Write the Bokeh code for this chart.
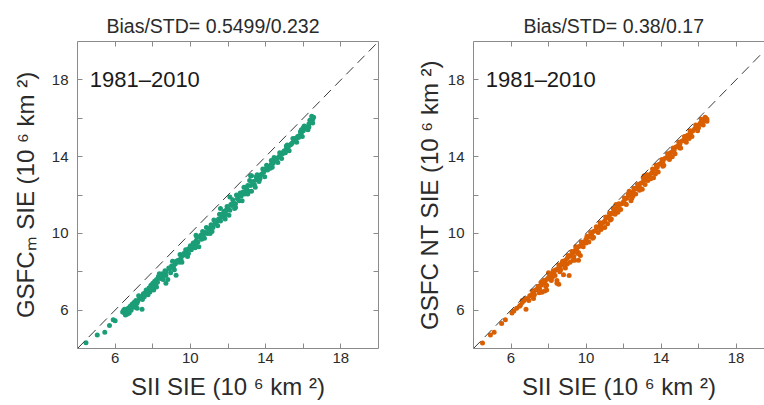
from bokeh.plotting import figure
from bokeh.layouts import row
from bokeh.models import Range1d, LinearAxis, FixedTicker, Slope, Label
from bokeh.embed import file_html
from bokeh.resources import INLINE

FONT = "Liberation Sans"

# ---------------- data ----------------
period = "1981–2010"
tick_values = [6, 8, 10, 12, 14, 16, 18]
tick_text = ["6", "", "10", "", "14", "", "18"]

left_title = "Bias/STD= 0.5499/0.232"
right_title = "Bias/STD= 0.38/0.17"
x_label = "SII SIE (10 ⁶ km ²)"
left_ylabel = "GSFCₘ SIE (10 ⁶ km ²)"
right_ylabel = "GSFC NT SIE (10 ⁶ km ²)"

sii_left = [4.45, 5.05, 5.45, 5.7, 5.9, 6.0,
            6.4, 6.45, 6.5, 6.55, 6.6, 6.7, 6.75, 6.8, 6.9, 7.0, 7.0, 7.05, 7.17, 7.1,
            7.2, 7.3, 7.43, 7.35, 7.5, 7.6, 7.7, 7.75, 7.8, 7.9, 7.95, 8.0, 8.05, 8.1,
            8.15, 8.2, 8.3, 8.4, 8.5, 8.6, 8.7, 8.7, 8.8, 8.9, 9.0, 9.1, 9.2, 9.24,
            9.35, 9.4, 9.5, 9.6, 9.7, 9.8, 9.9, 10.0, 10.05, 10.1, 10.2, 10.3, 10.4,
            10.5, 10.6, 10.7, 10.8, 10.9, 11.0, 11.1, 11.2, 11.3, 11.4, 11.5, 11.6,
            11.7, 11.8, 11.9, 12.0, 12.1, 12.2, 12.3, 12.4, 12.5, 12.6, 12.7, 12.8,
            12.9, 13.0, 13.1, 13.2, 13.3, 13.4, 13.5, 13.6, 13.7, 13.8, 13.9, 14.0,
            14.1, 14.2, 14.3, 14.4, 14.5, 14.6, 14.7, 14.8, 14.9, 15.0, 15.1, 15.2,
            15.3, 15.4, 15.5, 15.6, 15.7, 15.8, 15.9, 16.0, 16.1, 16.2, 16.3, 16.4,
            16.5, 16.55,
            6.6, 7.0, 7.45, 8.0, 8.45, 8.85, 9.25, 9.65, 10.15, 10.55, 10.95, 11.35,
            11.75, 12.15, 12.55, 12.95, 13.35, 13.75, 14.15, 14.55, 14.95, 15.35,
            15.75, 16.15, 16.45, 11.05, 11.8, 12.4, 13.05, 13.25, 14.25, 15.05, 15.55,
            16.0, 12.1, 13.2, 11.6, 10.3, 9.9, 8.2,
            6.5, 6.65, 6.85, 7.15, 7.25, 7.55, 7.65, 7.85, 8.25, 8.35, 8.55, 8.65,
            8.95, 9.05, 9.15, 9.45, 9.55, 9.75, 9.85, 10.25, 10.35, 10.45, 10.65,
            10.75, 10.85, 11.15, 11.25, 11.45, 11.55, 11.65, 11.85, 11.95, 12.05,
            12.25, 12.35, 12.45, 12.65, 12.75, 12.85, 13.05, 13.15, 13.25, 13.45,
            13.55, 13.65, 13.85, 13.95, 14.05, 14.35, 14.45, 14.65, 14.75, 14.85,
            15.15, 15.25, 15.45, 15.65, 15.85, 15.95, 16.05, 16.25, 16.35, 16.5,
            16.45, 16.3, 15.9, 15.1, 14.3, 13.5, 12.7, 11.9, 11.1, 10.3, 9.5, 8.7,
            7.9, 7.1, 6.55]
gsfcm = [4.3, 4.7, 4.85, 5.2, 5.5, 5.45,
         5.9, 6.0, 5.85, 5.95, 6.05, 6.1, 5.85, 6.2, 6.3, 6.15, 6.4, 6.2, 6.1, 6.5,
         6.45, 6.6, 6.05, 6.7, 6.85, 6.9, 7.0, 6.8, 7.15, 7.3, 7.2, 7.4, 7.05, 7.5,
         7.35, 7.6, 7.75, 7.65, 7.9, 7.8, 8.0, 7.4, 7.6, 8.15, 8.3, 8.25, 8.4, 7.82,
         8.6, 8.5, 8.7, 8.85, 8.9, 9.0, 9.2, 9.35, 9.15, 9.3, 9.5, 9.6, 9.55,
         9.8, 9.7, 9.95, 10.05, 10.0, 10.2, 10.35, 10.3, 10.5, 10.6, 10.75, 10.65,
         10.9, 11.15, 11.0, 11.3, 11.2, 11.45, 11.6, 11.55, 11.8, 11.7, 11.95, 12.15,
         12.05, 12.3, 12.2, 12.5, 12.65, 12.55, 12.8, 12.9, 12.85, 13.1, 13.2, 13.35,
         13.3, 13.5, 13.6, 13.65, 13.8, 13.9, 14.0, 14.1, 14.15, 14.3, 14.4, 14.5,
         14.6, 14.7, 14.8, 14.9, 15.05, 15.1, 15.25, 15.35, 15.5, 15.55, 15.7, 15.8,
         15.95, 16.05,
         5.9, 6.3, 6.55, 7.2, 7.85, 8.2, 8.55, 8.95, 9.5, 9.9, 10.25, 10.65,
         11.05, 11.5, 11.9, 12.2, 12.7, 13.05, 13.45, 13.85, 14.25, 14.65,
         15.0, 15.45, 15.85, 10.0, 10.85, 11.35, 12.5, 12.2, 13.4, 14.2, 14.95,
         15.5, 11.9, 13.0, 11.3, 9.9, 8.95, 7.2,
         6.05, 5.8, 6.0, 6.35, 6.75, 6.7, 7.05, 6.95, 7.45, 7.9, 7.6, 8.05,
         7.95, 8.55, 8.1, 8.9, 8.5, 9.15, 8.8, 9.25, 9.8, 9.3, 10.1,
         9.75, 10.3, 10.1, 10.7, 10.4, 11.0, 10.85, 10.75, 11.4, 10.95,
         11.75, 11.3, 12.0, 12.1, 11.7, 12.4, 12.05, 12.75, 13.0, 12.4,
         13.05, 12.7, 13.35, 12.95, 13.55, 13.45, 13.95, 13.7, 14.2, 13.9,
         14.6, 14.3, 14.95, 14.75, 15.3, 15.05, 15.6, 15.4, 15.9, 15.75,
         16.1, 15.55, 15.4, 14.55, 13.8, 12.95, 12.0, 11.2, 10.45, 9.45, 8.6, 7.8,
         7.1, 6.3, 5.75]

sii_right = [4.48, 4.9, 5.1, 5.5, 5.7, 6.05, 6.15, 6.3, 6.5, 6.6, 6.7, 6.8,
             6.9, 7.0, 7.1, 7.2, 7.3, 7.4, 7.5, 7.6, 7.7, 7.8, 7.9, 8.0, 8.1, 8.2,
             8.3, 8.4, 8.5, 8.6, 8.7, 8.8, 8.9, 9.0, 9.1, 9.2, 9.3, 9.4, 9.5, 9.6,
             9.7, 9.8, 9.9, 10.0, 10.1, 10.2, 10.3, 10.4, 10.5, 10.6, 10.7, 10.8,
             10.9, 11.0, 11.1, 11.2, 11.3, 11.4, 11.5, 11.6, 11.7, 11.8, 11.9, 12.0,
             12.1, 12.2, 12.3, 12.4, 12.5, 12.6, 12.7, 12.8, 12.9, 13.0, 13.1, 13.2,
             13.3, 13.4, 13.5, 13.6, 13.7, 13.8, 13.9, 14.0, 14.1, 14.2, 14.3, 14.4,
             14.5, 14.6, 14.7, 14.8, 14.9, 15.0, 15.1, 15.2, 15.3, 15.4, 15.5, 15.6,
             15.7, 15.8, 15.9, 16.0, 16.1, 16.2, 16.3, 16.4, 16.45,
             7.2, 7.5, 7.9, 8.2, 8.6, 9.0, 9.3, 9.6, 10.0, 10.4, 10.8, 11.3, 11.7,
             12.1, 12.5, 12.9, 13.3, 13.7, 14.1, 14.6, 15.0, 15.5, 16.0, 11.6, 12.3,
             13.1, 7.6, 8.0, 6.6, 9.6, 7.9, 9.4, 12.4, 13.0, 13.6, 11.0, 9.7,
             7.65, 7.8, 8.45, 8.55, 8.8, 9.1, 8.9, 8.45,
             6.45, 6.75, 6.95, 7.15, 7.25, 7.45, 7.55, 7.75, 7.85, 8.05, 8.15, 8.25,
             8.35, 8.55, 8.65, 8.75, 8.85, 9.05, 9.15, 9.25, 9.35, 9.45, 9.55, 9.75,
             9.85, 10.05, 10.15, 10.25, 10.35, 10.55, 10.65, 10.75, 10.85, 11.05,
             11.15, 11.25, 11.35, 11.45, 11.55, 11.75, 11.85, 12.05, 12.15, 12.25,
             12.45, 12.55, 12.65, 12.75, 12.85, 13.05, 13.15, 13.25, 13.45, 13.55,
             13.75, 13.85, 14.05, 14.15, 14.35, 14.45, 14.65, 14.75, 14.95, 15.05,
             15.25, 15.35, 15.55, 15.65, 15.85, 15.95, 16.15, 16.25, 16.35, 16.45,
             16.4]
gsfcnt = [4.29, 4.7, 4.85, 5.3, 5.5, 5.85, 5.95, 6.1, 6.25, 6.4, 6.5, 6.05,
          6.6, 6.75, 6.8, 6.9, 7.05, 7.1, 7.2, 7.3, 7.4, 7.45, 7.6, 7.7, 7.8, 7.9,
          8.0, 8.1, 8.15, 8.3, 8.4, 8.45, 8.6, 8.7, 8.8, 8.85, 9.0, 9.1, 9.2, 9.3,
          9.35, 9.5, 9.55, 9.7, 9.8, 9.85, 10.0, 10.1, 10.15, 10.3, 10.35, 10.5,
          10.55, 10.65, 10.8, 10.85, 11.0, 11.05, 11.15, 11.3, 11.35, 11.5, 11.55,
          11.65, 11.8, 11.85, 12.0, 12.05, 12.15, 12.3, 12.35, 12.45, 12.6, 12.65,
          12.8, 12.85, 13.0, 13.05, 13.15, 13.3, 13.35, 13.45, 13.6, 13.65, 13.75,
          13.9, 13.95, 14.05, 14.2, 14.25, 14.35, 14.5, 14.55, 14.65, 14.8, 14.85,
          14.95, 15.1, 15.15, 15.25, 15.35, 15.45, 15.55, 15.65, 15.75, 15.8, 15.9,
          16.0, 15.95,
          6.6, 6.9, 7.3, 7.7, 8.0, 8.4, 8.6, 9.0, 9.5, 9.8, 10.2, 10.7, 11.1,
          11.55, 11.95, 12.35, 12.75, 13.1, 13.5, 14.0, 14.45, 14.95, 15.5, 11.5,
          12.2, 13.0, 7.45, 7.95, 6.5, 8.6, 7.05, 8.6, 11.7, 12.3, 12.9, 10.3, 8.85,
          6.93, 7.0, 7.55, 7.35, 7.85, 7.8, 8.2, 7.4,
          6.2, 6.6, 6.5, 7.0, 6.8, 7.25, 7.05, 7.55, 7.25, 7.9, 7.55, 8.05,
          7.8, 8.35, 8.1, 8.55, 8.3, 8.85, 8.5, 9.05, 8.8, 9.3, 8.95, 9.55,
          9.3, 9.85, 9.55, 10.05, 9.75, 10.35, 10.05, 10.55, 10.3, 10.85,
          10.5, 11.05, 10.75, 11.3, 11.0, 11.55, 11.25, 11.85, 11.5, 12.05,
          11.85, 12.35, 12.05, 12.55, 12.25, 12.9, 12.55, 13.05, 12.85, 13.35,
          13.55, 13.2, 13.85, 13.55, 14.15, 13.85, 14.45, 14.15, 14.75, 14.45,
          15.05, 14.75, 15.35, 15.05, 15.65, 15.35, 15.95, 15.65, 16.05, 15.85,
          15.9]

GREEN = "#1b9e77"
ORANGE = "#d95f02"
AXIS_COLOR = "#8a8a8a"
TEXT_COLOR = "#2b2b2b"
overrides = {v: t for v, t in zip(tick_values, tick_text)}
blank = {v: "" for v in tick_values}


def style_axis(ax, labels):
    ax.ticker = FixedTicker(ticks=tick_values)
    ax.major_tick_in = 5
    ax.major_tick_out = 0
    ax.minor_tick_line_color = None
    ax.axis_line_color = AXIS_COLOR
    ax.major_tick_line_color = AXIS_COLOR
    ax.major_label_text_font = FONT
    ax.major_label_text_font_size = "15px"
    ax.major_label_text_color = TEXT_COLOR
    ax.major_label_overrides = overrides if labels else blank
    ax.axis_label_text_font = FONT
    ax.axis_label_text_font_size = "24px"
    ax.axis_label_text_font_style = "normal"
    ax.axis_label_text_color = TEXT_COLOR


def panel(xs, ys, color, ylabel, title, width, bl, br, x_end, t_off, ylab_standoff, right_axis):
    p = figure(width=width, height=405, x_range=Range1d(4, x_end), y_range=Range1d(4, 20),
               output_backend="svg", toolbar_location=None,
               min_border_left=bl, min_border_right=br, min_border_top=41, min_border_bottom=57)
    p.outline_line_color = None
    p.xgrid.visible = False
    p.ygrid.visible = False
    p.background_fill_color = "white"
    p.border_fill_color = "white"

    p.title.text = title
    p.title.align = "left"
    p.title.offset = t_off
    p.title.text_font = FONT
    p.title.text_font_size = "19.5px"
    p.title.text_font_style = "normal"
    p.title.text_color = TEXT_COLOR

    xa = p.xaxis[0]
    ya = p.yaxis[0]
    style_axis(xa, True)
    style_axis(ya, True)
    xa.axis_label = x_label
    ya.axis_label = ylabel
    xa.major_label_standoff = 4
    xa.axis_label_standoff = 7
    ya.major_label_standoff = 9
    ya.axis_label_standoff = ylab_standoff

    top = LinearAxis()
    style_axis(top, False)
    top.major_label_standoff = 0
    p.add_layout(top, "above")
    if right_axis:
        rgt = LinearAxis()
        style_axis(rgt, False)
        rgt.major_label_standoff = 0
        p.add_layout(rgt, "right")

    p.add_layout(Slope(gradient=1, y_intercept=0, line_color="#3a3a3a",
                       line_width=1, line_dash="10 6"))
    p.scatter(xs, ys, size=5, color=color, line_color=None)
    p.add_layout(Label(x=4.65, y=18.0, text=period, text_font=FONT,
                       text_font_size="22px", text_color="#1a1a1a",
                       text_baseline="alphabetic"))
    return p


p1 = panel(sii_left, gsfcm, GREEN, left_ylabel, left_title, 390, 77, 12, 20, 29, 10, True)
p2 = panel(sii_right, gsfcnt, ORANGE, right_ylabel, right_title, 374, 83, 0,
           4 + 291 / 18.75, 50, 2, False)

layout = row(p1, p2)
open("out.html", "w").write(file_html(layout, INLINE))
